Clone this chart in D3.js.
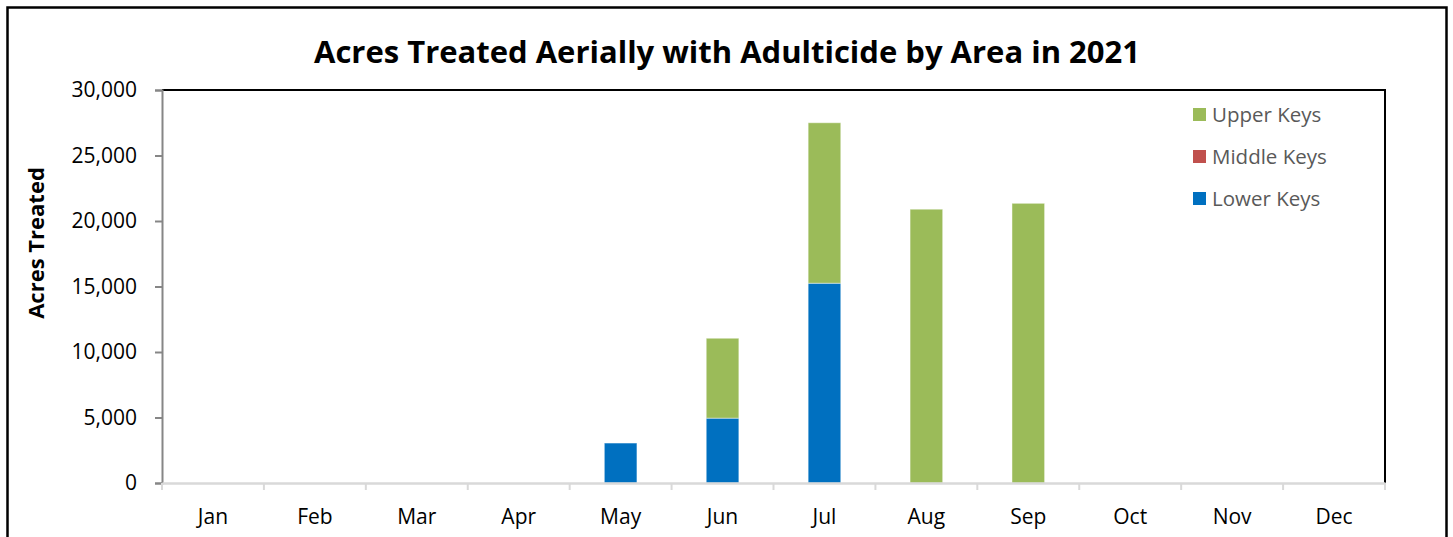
<!DOCTYPE html>
<html>
<head>
<meta charset="utf-8">
<script src="https://cdn.jsdelivr.net/npm/d3@7"></script>
<style>
  body { margin: 0; background: #fff; }
  text { font-family: "Open Sans", "Noto Sans", sans-serif; }
</style>
</head>
<body>
<svg id="chart" width="1453" height="537"></svg>
<script>
var months = ["Jan", "Feb", "Mar", "Apr", "May", "Jun", "Jul", "Aug", "Sep", "Oct", "Nov", "Dec"];
var lowerKeys  = [0, 0, 0, 0, 3050, 4950, 15250, 0, 0, 0, 0, 0];
var middleKeys = [0, 0, 0, 0, 0, 0, 0, 0, 0, 0, 0, 0];
var upperKeys  = [0, 0, 0, 0, 0, 6100, 12250, 20900, 21350, 0, 0, 0];
var seriesNames = ["Lower Keys", "Middle Keys", "Upper Keys"];
var seriesColors = ["#0070c0", "#c0504d", "#9bbb59"];
var yTicks = [0, 5000, 10000, 15000, 20000, 25000, 30000];

var svg = d3.select("#chart"),
    pLeft = 162, pRight = 1385, pTop = 90, pBottom = 483;

// outer frame
svg.append("rect")
    .attr("x", 7.5).attr("y", 7.5)
    .attr("width", 1439).attr("height", 540)
    .attr("fill", "none").attr("stroke", "#000").attr("stroke-width", 2.5);

svg.append("text")
    .attr("x", 727).attr("y", 63)
    .attr("text-anchor", "middle")
    .attr("font-size", 31).attr("font-weight", "bold")
    .text("Acres Treated Aerially with Adulticide by Area in 2021");

var x = d3.scaleBand().domain(months).range([pLeft, pRight]).paddingInner(0.68).paddingOuter(0.34);
var xb = d3.scaleBand().domain(months).range([pLeft, pRight]);
var y = d3.scaleLinear().domain([0, 30000]).range([pBottom, pTop]);

var rows = months.map(function (m, i) {
    return { month: m, "Lower Keys": lowerKeys[i], "Middle Keys": middleKeys[i], "Upper Keys": upperKeys[i] };
});
var stacked = d3.stack().keys(seriesNames)(rows);

// plot area frame (top and right are black)
svg.append("path")
    .attr("d", "M" + pLeft + "," + pTop + "H" + pRight + "V" + pBottom)
    .attr("fill", "none").attr("stroke", "#000").attr("stroke-width", 2);

svg.selectAll("g.series")
    .data(stacked)
    .join("g")
    .attr("class", "series")
    .attr("fill", function (d, i) { return seriesColors[i]; })
    .selectAll("rect")
    .data(function (d) { return d.filter(function (p) { return p[1] - p[0] > 0; }); })
    .join("rect")
    .attr("x", function (d) { return x(d.data.month); })
    .attr("width", x.bandwidth())
    .attr("y", function (d) { return y(d[1]); })
    .attr("height", function (d) { return y(d[0]) - y(d[1]); })
    .attr("stroke", "rgba(255,255,255,0.45)")
    .attr("stroke-width", 1);

// y axis
var yAxis = svg.append("g")
    .attr("transform", "translate(" + pLeft + ",0)")
    .call(d3.axisLeft(y).tickValues(yTicks).tickSize(7).tickPadding(18).tickFormat(d3.format(",")));
yAxis.select(".domain").attr("stroke", "#868686").attr("stroke-width", 2);
yAxis.selectAll(".tick line").attr("stroke", "#868686").attr("stroke-width", 2);
yAxis.selectAll(".tick text").attr("font-size", 21).attr("fill", "#000")
    .style("font-family", "'Open Sans', sans-serif");

// x axis
var xAxis = svg.append("g")
    .attr("transform", "translate(0," + pBottom + ")")
    .call(d3.axisBottom(xb).tickSize(0).tickPadding(26));
xAxis.select(".domain").attr("stroke", "#d9d9d9").attr("stroke-width", 2.5);
xAxis.selectAll(".tick text").attr("font-size", 21).attr("fill", "#000")
    .style("font-family", "'Open Sans', sans-serif");
svg.append("g").selectAll("line")
    .data(months.concat(["end"]))
    .join("line")
    .attr("x1", function (d, i) { return pLeft + i * xb.step(); })
    .attr("x2", function (d, i) { return pLeft + i * xb.step(); })
    .attr("y1", pBottom).attr("y2", pBottom + 7)
    .attr("stroke", "#d9d9d9").attr("stroke-width", 2);

svg.append("text")
    .attr("transform", "translate(44,243) rotate(-90)")
    .attr("text-anchor", "middle")
    .attr("font-size", 22).attr("font-weight", "bold")
    .text("Acres Treated");

// legend (reverse order like Excel stacked)
var legend = svg.append("g").selectAll("g")
    .data(seriesNames.slice().reverse())
    .join("g")
    .attr("transform", function (d, i) { return "translate(1193," + (108 + i * 42) + ")"; });
legend.append("rect")
    .attr("width", 13).attr("height", 13)
    .attr("fill", function (d) { return seriesColors[seriesNames.indexOf(d)]; });
legend.append("text")
    .attr("x", 19).attr("y", 14)
    .attr("font-size", 20.5).attr("fill", "#595959")
    .text(function (d) { return d; });
</script>
</body>
</html>
